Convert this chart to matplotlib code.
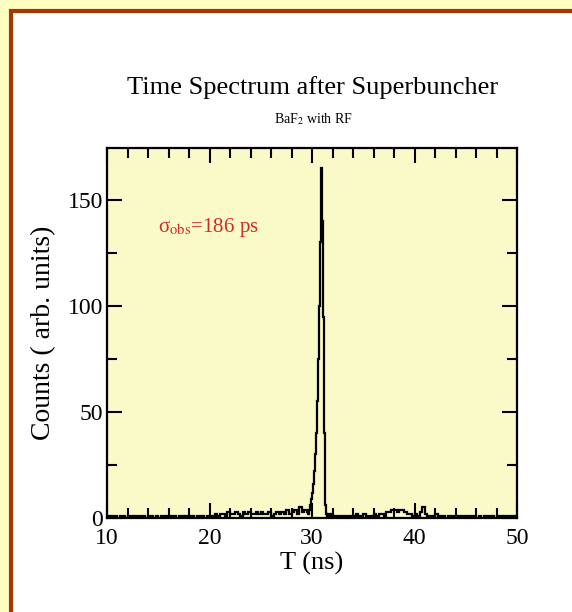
import matplotlib
matplotlib.use('Agg')
import matplotlib.pyplot as plt
from matplotlib.patches import Rectangle
from matplotlib.ticker import MultipleLocator
import numpy as np

plt.rcParams['font.family'] = ['Liberation Serif', 'DejaVu Serif']
plt.rcParams['mathtext.fontset'] = 'stix'

# baseline counts, 0.25 ns bins from 10.0 to 29.5 ns
counts_left = [1, 0, 1, 1, 0, 1, 1, 0, 1, 1, 0, 1, 0, 1, 1, 0,
               1, 1, 0, 1, 0, 1, 1, 1, 0, 1, 1, 0, 1, 1, 0, 1,
               1, 1, 0, 1, 1, 1, 0, 1, 0, 1, 2, 1, 2, 2, 1, 3,
               2, 2, 3, 2, 1, 3, 2, 3, 2, 2, 3, 2, 3, 2, 2, 3,
               1, 2, 3, 2, 3, 2, 4, 2, 3, 4, 2, 5, 3, 4]
# peak region, 0.1 ns bins from 29.5 to 32.0 ns
counts_peak = [3, 2, 4, 6, 9, 12, 16, 22, 30, 40, 55, 75, 100, 130, 165,
               140, 95, 40, 6, 2, 1, 2, 1, 1, 2]
# baseline counts, 0.25 ns bins from 32.0 to 50.0 ns
counts_right = [1, 1, 0, 1, 1, 1, 0, 1, 1, 2, 1, 1, 2, 1, 1, 1,
                2, 1, 2, 2, 1, 3, 3, 4, 4, 3, 4, 4, 3, 2, 2, 1,
                2, 1, 3, 5, 2, 1, 1, 1, 2, 1, 1, 1, 0, 1, 1, 1,
                0, 1, 1, 1, 0, 1, 1, 1, 0, 1, 0, 1, 1, 1, 1, 0,
                1, 1, 0, 1, 1, 1, 1, 1]

title = 'Time Spectrum after Superbuncher'
subtitle = r'BaF$_2$ with RF'
note = r'σ$_{\rm obs}$=186 ps'

edges = np.concatenate([
    10.0 + 0.25 * np.arange(len(counts_left)),
    29.5 + 0.1 * np.arange(len(counts_peak)),
    32.0 + 0.25 * np.arange(len(counts_right) + 1),
])
counts = counts_left + counts_peak + counts_right

fig = plt.figure(figsize=(5.72, 6.12), dpi=100)
fig.patch.set_facecolor('#FFFFC2')
fig.patches.append(Rectangle((11 / 572, -0.05), 1.2, 1 - 11 / 612 + 0.05,
                             transform=fig.transFigure, facecolor='white',
                             edgecolor='#A03A0A', linewidth=3, zorder=-5))

ax = fig.add_axes([107 / 572, 1 - 518 / 612, 410 / 572, 370 / 612])
ax.set_zorder(2)
ax.set_facecolor('#FAFAC8')
ax.stairs(counts, edges, color='black', linewidth=1.6)

ax.set_xlim(10, 50)
ax.set_ylim(0, 174.5)
ax.xaxis.set_major_locator(MultipleLocator(10))
ax.xaxis.set_minor_locator(MultipleLocator(2))
ax.yaxis.set_major_locator(MultipleLocator(50))
ax.yaxis.set_minor_locator(MultipleLocator(25))
ax.tick_params(which='both', direction='in', top=True, right=True,
               labelsize=17, width=1.5)
ax.tick_params(axis='x', pad=7)
ax.tick_params(axis='y', pad=3)
ax.tick_params(which='major', length=11)
ax.tick_params(which='minor', length=7)
for s in ax.spines.values():
    s.set_linewidth(1.6)

ax.set_xlabel('T (ns)', fontsize=19, labelpad=2)
ax.set_ylabel('Counts ( arb. units)', fontsize=20, labelpad=8)

ax.text(15.0, 137, note, color='#D42828', fontsize=15, va='center')

fig.text(313 / 572, 1 - 88 / 612, title, fontsize=19, ha='center', va='center')
fig.text(313 / 572, 1 - 119 / 612, subtitle, fontsize=10, ha='center', va='center')

fig.savefig('out.png', dpi=100, facecolor=fig.get_facecolor())
